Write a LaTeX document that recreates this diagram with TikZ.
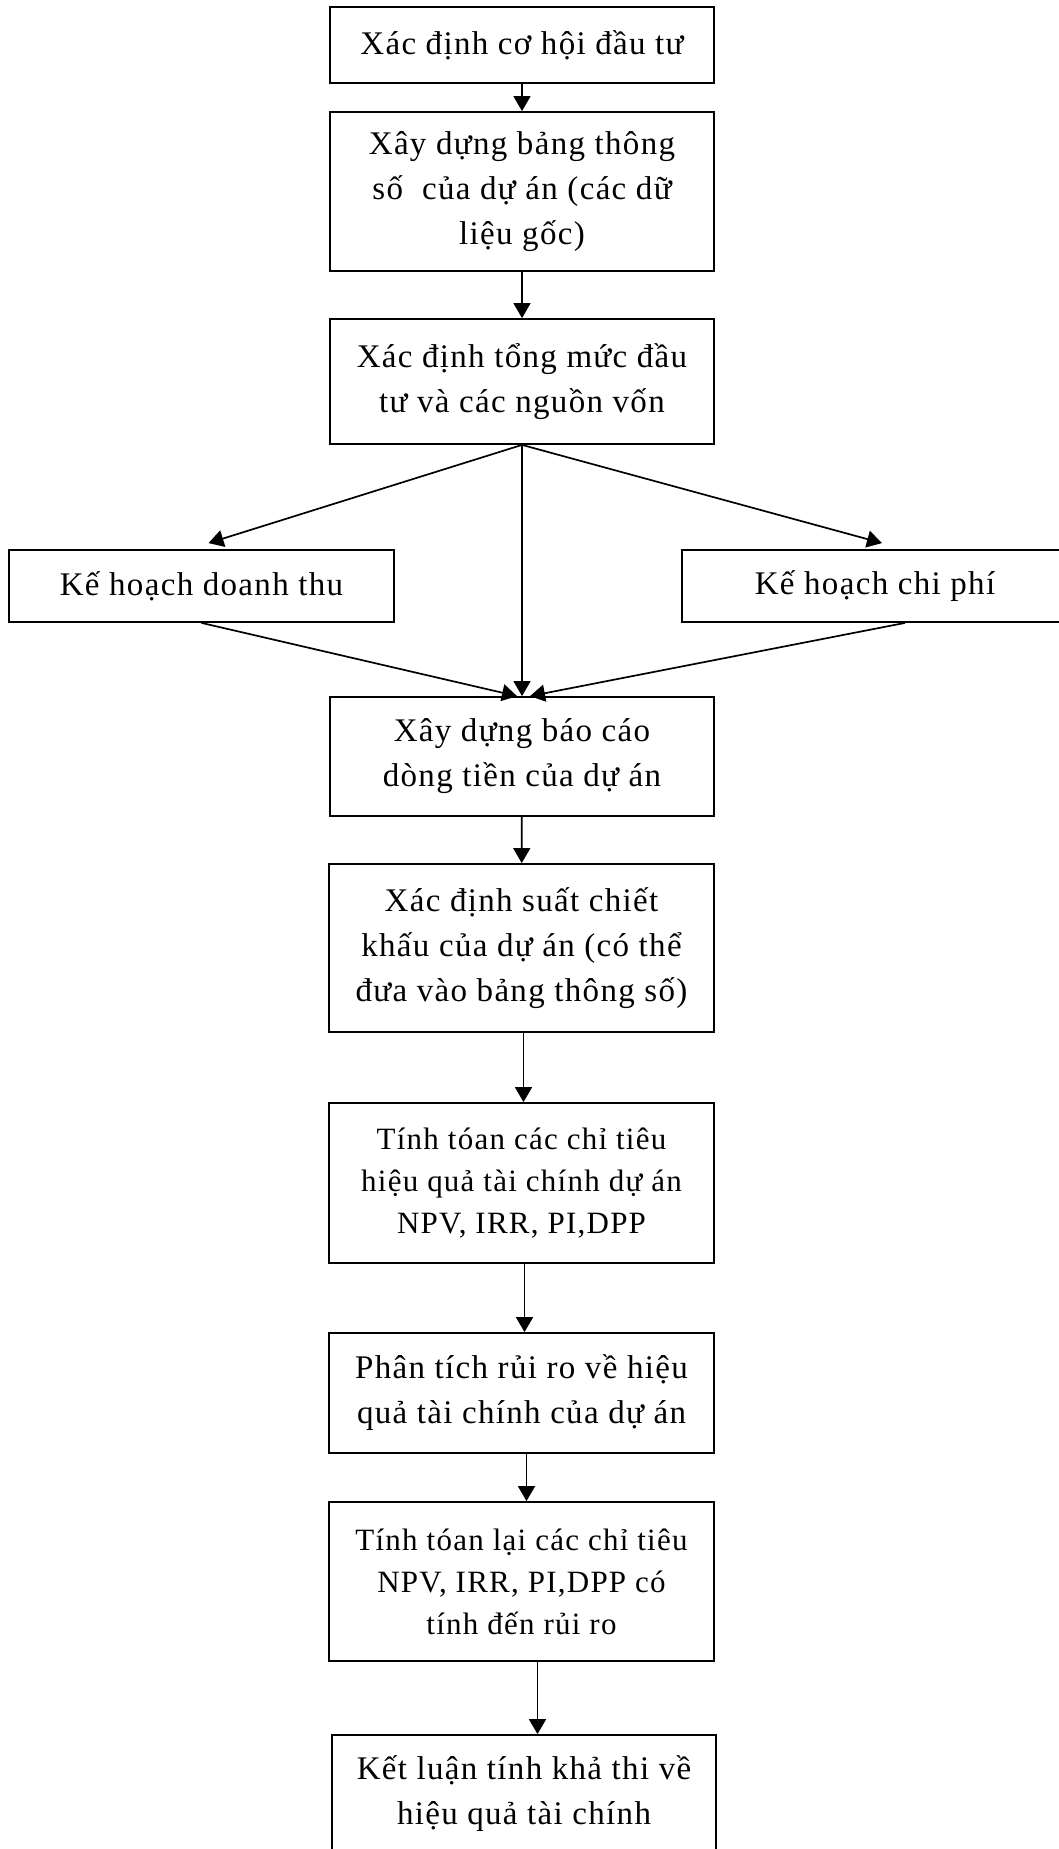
\documentclass[tikz,border=0pt]{standalone}
\usepackage{fontspec}
\setmainfont[LetterSpace=4]{Liberation Serif}
\usetikzlibrary{arrows.meta,positioning,calc}
\tikzset{
  box/.style={draw,rectangle,line width=1.8pt,minimum width=384pt,inner sep=0pt,align=center,font=\fontsize{33}{45}\selectfont},
  smallbox/.style={box,font=\fontsize{31}{42}\selectfont},
  arr/.style={-{Triangle[length=15pt,width=17pt]},line width=1.7pt}
}

\begin{document}
\begin{tikzpicture}[x=1pt,y=-1pt]
  \useasboundingbox (0,0) rectangle (1059,1849);
  \node[box,minimum height=76pt] (b1) at (522,45) {Xác định cơ hội đầu tư};
  \node[box,minimum height=159pt] (b2) at (522,191.5) {Xây dựng bảng thông\\số~ của dự án (các dữ\\liệu gốc)};
  \node[box,minimum height=125pt] (b3) at (522,381.5) {Xác định tổng mức đầu\\tư và các nguồn vốn};
  \node[box,minimum width=385pt,minimum height=72pt] (rev) at (201.5,586) {Kế hoạch doanh thu};
  \node[box,minimum width=386pt,minimum height=72pt] (cost) at (875,586) {Kế hoạch chi phí};
  \node[box,minimum height=119pt] (b4) at (522,756.5) {Xây dựng báo cáo\\dòng tiền của dự án};
  \node[box,minimum width=385pt,minimum height=168pt] (b5) at (521.5,948) {Xác định suất chiết\\khấu của dự án (có thể\\đưa vào bảng thông số)};
  \node[smallbox,minimum width=385pt,minimum height=160pt] (b6) at (521.5,1183) {Tính tóan các chỉ tiêu\\hiệu quả tài chính dự án\\NPV, IRR, PI,DPP};
  \node[box,minimum width=385pt,minimum height=120pt] (b7) at (521.5,1393) {Phân tích rủi ro về hiệu\\quả tài chính của dự án};
  \node[smallbox,minimum width=385pt,minimum height=159pt] (b8) at (521.5,1581.5) {Tính tóan lại các chỉ tiêu\\NPV, IRR, PI,DPP có\\tính đến rủi ro};
  \node[box,minimum height=118pt] (b9) at (524,1794) {Kết luận tính khả thi về\\hiệu quả tài chính};

  \draw[arr] (b1) -- (b2);
  \draw[arr] (b2) -- (b3);
  \draw[arr] (b3.south) -- ($(rev.north)+(7,-6)$);
  \draw[arr] (b3.south) -- ($(cost.north)+(7,-6)$);
  \draw[arr] (b3.south) -- (b4.north);
  \draw[arr] (rev.south) -- ($(b4.north)+(-5,0)$);
  \draw[arr] ($(cost.south)+(30,0)$) -- ($(b4.north)+(8,0)$);
  \draw[arr] (b4) -- (b5);
  \draw[arr] ([xshift=2pt]b5.south) -- ([xshift=2pt]b6.north);
  \draw[arr] ([xshift=3pt]b6.south) -- ([xshift=3pt]b7.north);
  \draw[arr] ([xshift=5pt]b7.south) -- ([xshift=5pt]b8.north);
  \draw[arr] ([xshift=16pt]b8.south) -- ([xshift=16pt]b8.south |- b9.north);
\end{tikzpicture}
\end{document}
